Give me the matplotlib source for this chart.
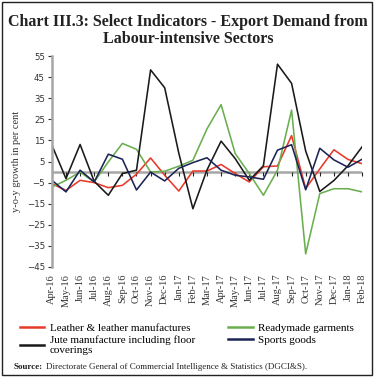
import numpy as np
import matplotlib
matplotlib.use('Agg')
import matplotlib.pyplot as plt
from matplotlib.patches import Rectangle

months = ['Apr-16', 'May-16', 'Jun-16', 'Jul-16', 'Aug-16', 'Sep-16', 'Oct-16', 'Nov-16',
          'Dec-16', 'Jan-17', 'Feb-17', 'Mar-17', 'Apr-17', 'May-17', 'Jun-17', 'Jul-17',
          'Aug-17', 'Sep-17', 'Oct-17', 'Nov-17', 'Dec-17', 'Jan-18', 'Feb-18']

leather = [-5.5, -8.7, -3.9, -5.0, -7.4, -6.3, -1.0, 6.7, -1.5, -9.0, 0.5, 0.5,
           3.6, -0.7, -4.7, 2.5, 2.9, 17.3, -7.8, 1.5, 10.6, 6.0, 4.0]
readymade = [-7.1, -3.9, 0.0, -4.7, 4.8, 13.6, 10.8, 0.0, 0.4, 2.8, 5.6, 20.5,
             32.0, 8.8, -0.7, -11.0, 0.9, 29.4, -38.8, -10.2, -7.9, -7.9, -9.4]
jute = [12.8, -3.1, 13.1, -4.4, -11.0, -0.7, 0.9, 48.5, 40.0, 9.0, -17.4, 1.0,
        14.7, 6.4, -3.9, 3.0, 51.2, 42.1, 10.0, -9.2, -4.0, 3.0, 12.0]
sports = [-3.9, -9.4, 0.9, -4.7, 8.5, 6.1, -8.5, 0.0, -4.2, 1.8, 4.5, 6.8,
          0.9, -1.5, -2.3, -3.4, 10.4, 13.0, -8.4, 11.3, 5.8, 2.3, 6.1]

yticks = list(range(-45, 56, 10))

serif = 'Liberation Serif'

fig = plt.figure(figsize=(3.76, 3.77), dpi=100)
ax = fig.add_axes([0.138, 0.292, 0.825, 0.559])

x = np.arange(len(months))
ax.axhline(0, color='#a6a6a6', lw=1.8, zorder=1)
l1, = ax.plot(x, leather, color='#e8392a', lw=1.15, label='Leather & leather manufactures')
l3, = ax.plot(x, readymade, color='#6aaf4f', lw=1.15, label='Readymade garments')
l2, = ax.plot(x, jute, color='#1a1a1a', lw=1.15, label='Jute manufacture including floor\ncoverings')
l4, = ax.plot(x, sports, color='#1c2457', lw=1.15, label='Sports goods')

ax.set_xlim(0, len(months) - 1)
ax.set_ylim(-45, 55)
ax.set_yticks(yticks)
ax.tick_params(axis='y', length=3, width=0.8, color='#333333', labelsize=6.2,
               labelcolor='#333333', pad=2)
for s in ['top', 'right']:
    ax.spines[s].set_visible(False)
ax.spines['left'].set_color('#a6a6a6')
ax.spines['left'].set_linewidth(1.8)

# tick marks sit on the zero line
ax.spines['bottom'].set_position(('data', 0))
ax.spines['bottom'].set_visible(False)
ax.set_xticks(x)
ax.tick_params(axis='x', length=3, width=0.8, color='#222222', labelbottom=False)

sec = ax.secondary_xaxis(0)
sec.set_xticks(x)
sec.set_xticklabels(months, rotation=90, fontfamily=serif, fontsize=7.5, color='#333333')
sec.tick_params(length=0, pad=5)
sec.spines['bottom'].set_visible(False)

ax.set_ylabel('y-o-y growth in per cent', fontfamily=serif, fontsize=7.5,
              color='#333333', labelpad=4)

fig.text(0.5, 0.941, 'Chart III.3: Select Indicators - Export Demand from',
         ha='center', va='center', fontfamily=serif, fontweight='bold', fontsize=11.5,
         color='#222222')
fig.text(0.5, 0.896, 'Labour-intensive Sectors', ha='center', va='center',
         fontfamily=serif, fontweight='bold', fontsize=11.5, color='#222222')

leg = fig.legend(handles=[l1, l2, l3, l4], loc='upper left', bbox_to_anchor=(0.052, 0.143),
                 ncol=2, frameon=False, prop={'family': serif, 'size': 8},
                 handlelength=2.2, handletextpad=0.5, columnspacing=3.0,
                 labelspacing=0.2, borderaxespad=0, borderpad=0)
for h in leg.legend_handles:
    h.set_linewidth(1.8)

fig.text(0.037, 0.027, 'Source:', fontfamily=serif, fontweight='bold', fontsize=6.5,
         va='center', color='#222222')
fig.text(0.122, 0.027, 'Directorate General of Commercial Intelligence & Statistics (DGCI&S).',
         fontfamily=serif, fontsize=6.5, va='center', color='#222222')

fig.patches.append(Rectangle((0.004, 0.004), 0.985, 0.99, transform=fig.transFigure,
                             fill=False, edgecolor='#222222', lw=1.0))

fig.savefig('out.png', dpi=100)
